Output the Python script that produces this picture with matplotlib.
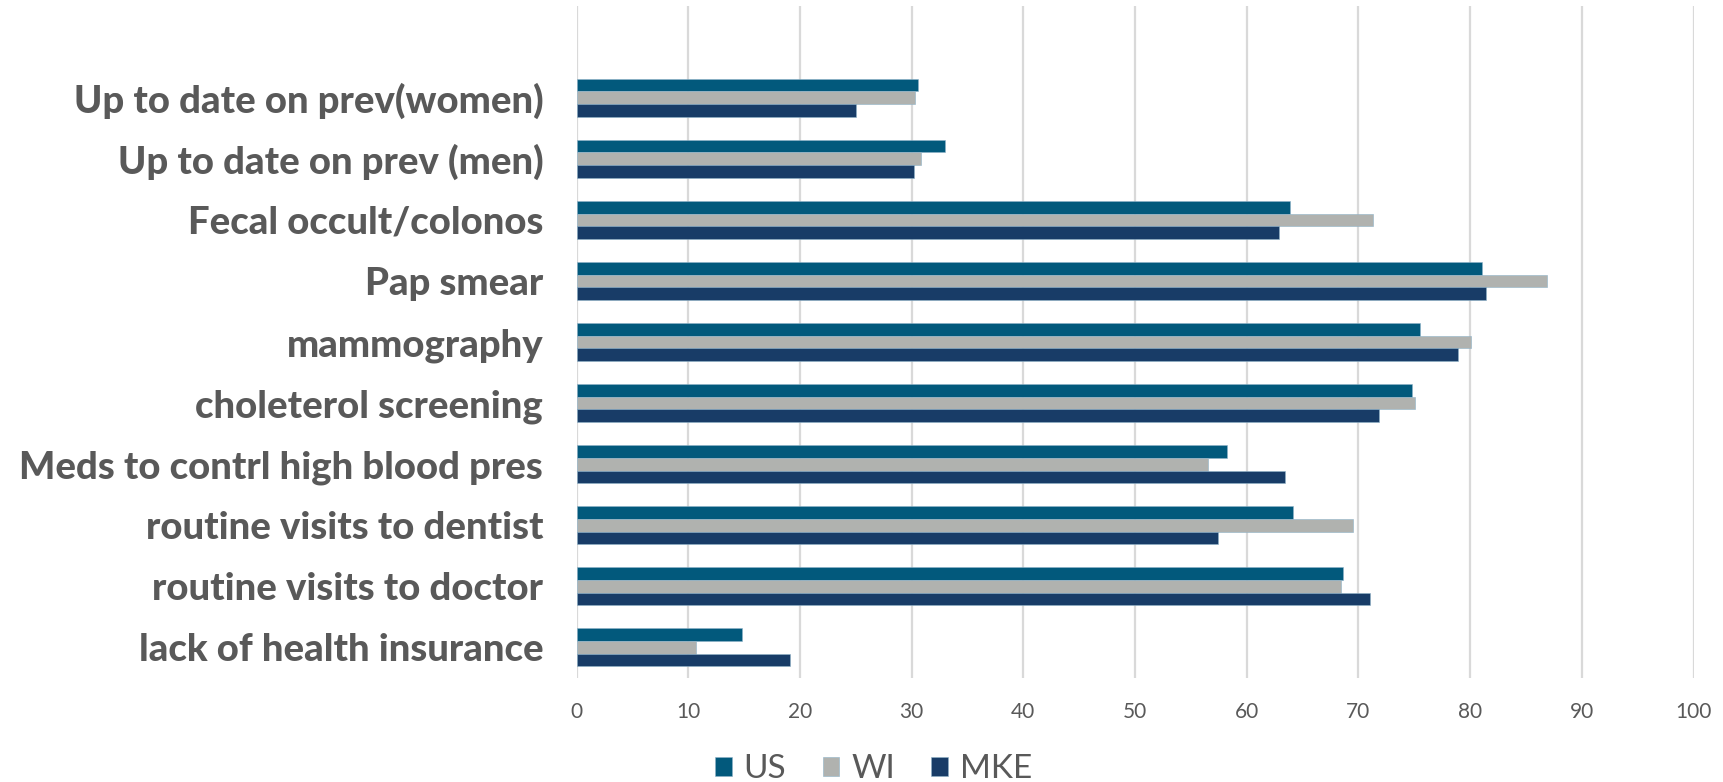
import matplotlib
matplotlib.use("Agg")
import matplotlib.pyplot as plt
import numpy as np

categories = [
    "lack of health insurance",
    "routine visits to doctor",
    "routine visits to dentist",
    "Meds to contrl high blood pres",
    "choleterol screening",
    "mammography",
    "Pap smear",
    "Fecal occult/colonos",
    "Up to date on prev (men)",
    "Up to date on prev(women)",
]
us = [14.8, 68.6, 64.1, 58.2, 74.8, 75.5, 81.1, 63.9, 33.0, 30.6]
wi = [10.7, 68.4, 69.5, 56.5, 75.1, 80.1, 86.9, 71.3, 30.8, 30.3]
mke = [19.1, 71.0, 57.4, 63.4, 71.8, 78.9, 81.4, 62.9, 30.2, 25.0]
series_names = ["US", "WI", "MKE"]
colors = ["#02597C", "#B0B2AF", "#183C67"]
xticks = [0, 10, 20, 30, 40, 50, 60, 70, 80, 90, 100]

plt.rcParams['font.family'] = ['Lato', 'DejaVu Sans']

fig = plt.figure(figsize=(17.23, 7.82), dpi=100)
ax = fig.add_axes([0.3346, 0.133, 0.6483, 0.8593])

y = np.arange(len(categories))
h = 0.207
for i, (vals, name, c) in enumerate(zip([us, wi, mke], series_names, colors)):
    ax.barh(y + (1 - i) * h, vals, height=h, color=c, label=name, zorder=3,
            edgecolor="#8FB3C9", linewidth=0.4)

ax.set_xlim(0, 100)
ax.set_ylim(-0.5, len(categories) + 0.5)
ax.set_xticks(xticks)
ax.set_xticklabels([str(t) for t in xticks])
ax.set_yticks(y)
ax.set_yticklabels(categories)
ax.xaxis.grid(True, color="#D9D9D9", linewidth=1.6, zorder=0)
ax.set_axisbelow(True)
for s in ax.spines.values():
    s.set_visible(False)
ax.tick_params(axis='x', length=0, labelsize=15, colors="#595959", pad=17)
ax.tick_params(axis='y', length=0, labelsize=27.5, colors="#595959", pad=24)
for lbl in ax.get_yticklabels():
    lbl.set_fontweight('black')

leg = fig.legend(loc='center', bbox_to_anchor=(0.507, 0.016), ncol=3, frameon=False,
                 fontsize=24, handlelength=0.5, handleheight=0.5, handletextpad=0.35,
                 columnspacing=1.1, labelcolor="#595959")

fig.savefig("out.png", dpi=100, facecolor="white")
